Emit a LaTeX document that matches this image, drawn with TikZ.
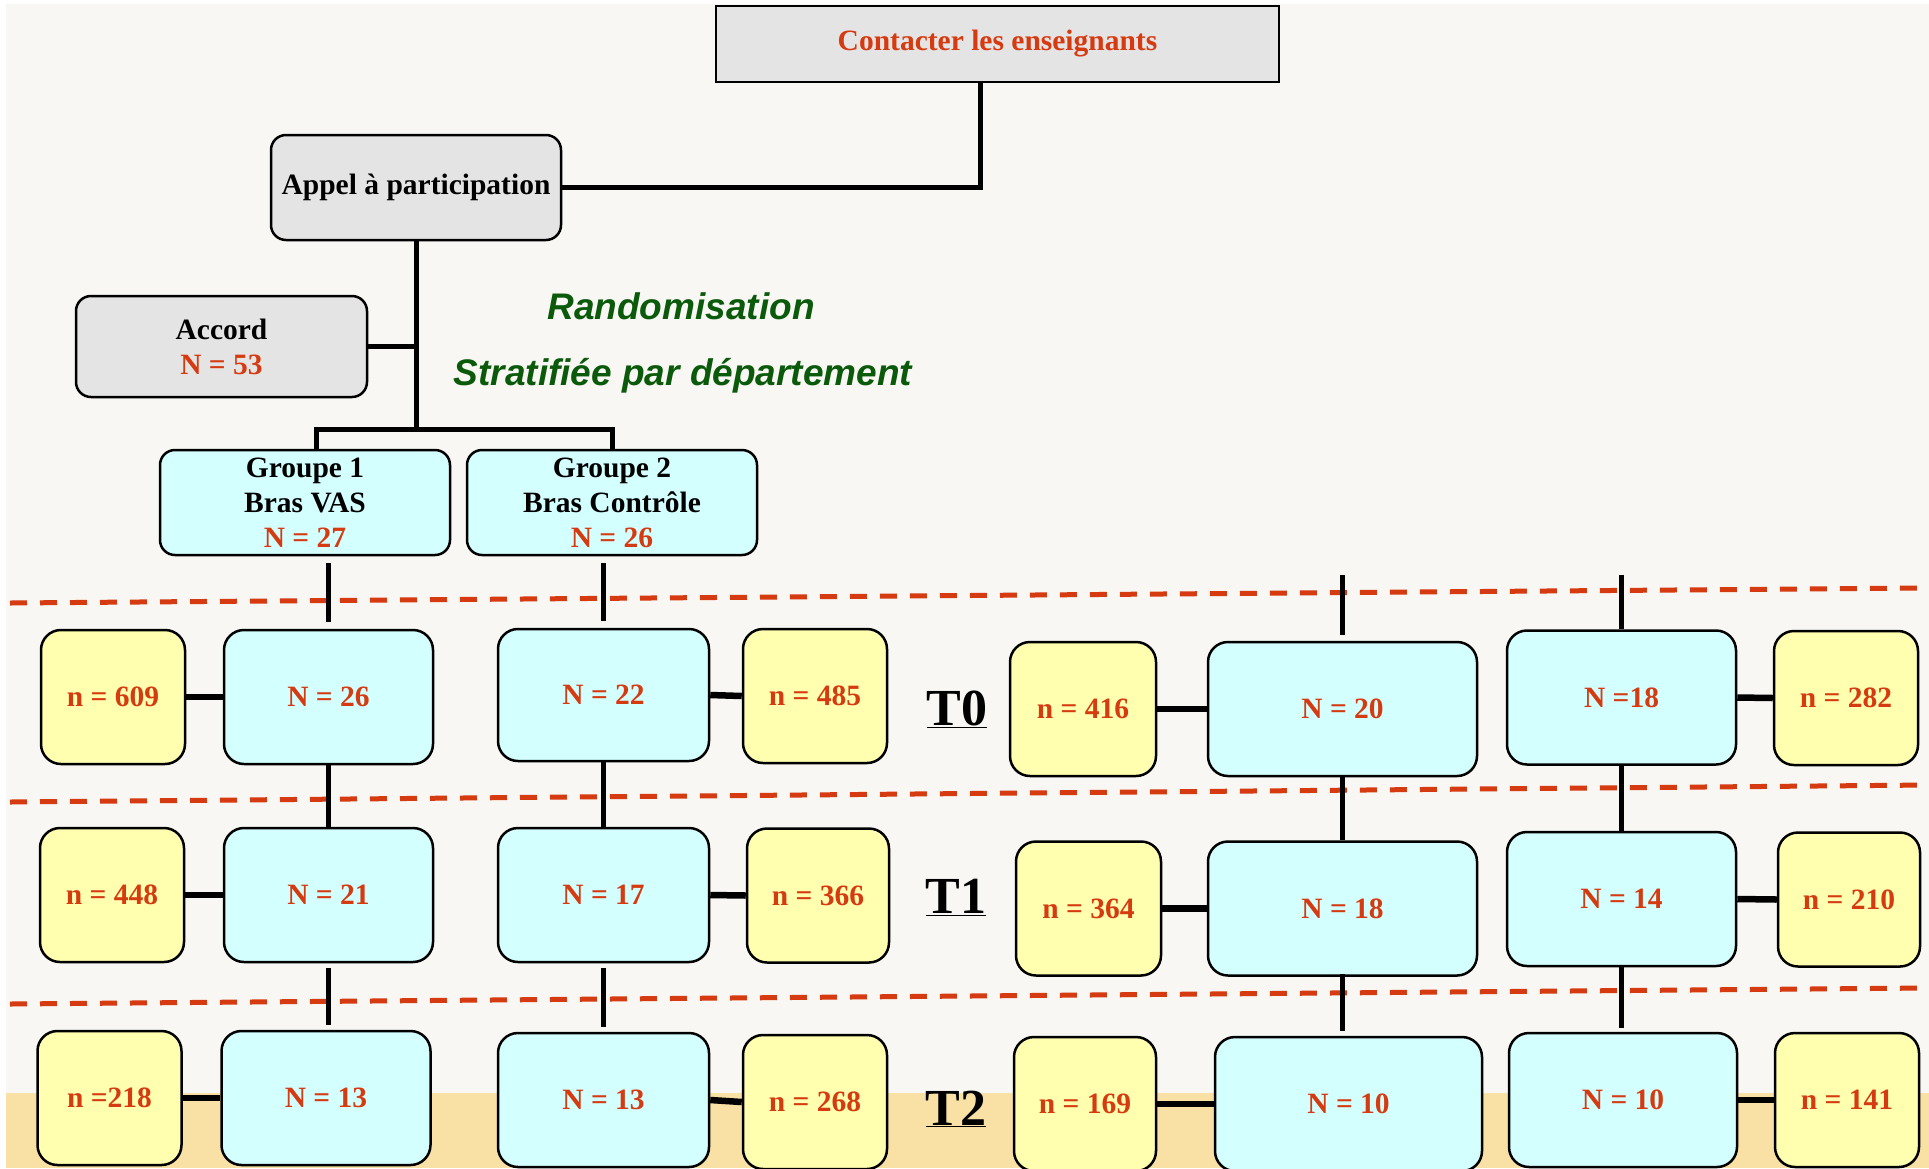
\documentclass[tikz,border=0pt]{standalone}
\usepackage{fontspec}
\setmainfont{Liberation Serif}
\newfontfamily\randofont{Liberation Sans}
\usetikzlibrary{positioning,calc}

\definecolor{paper}{HTML}{F8F7F3}
\definecolor{band}{HTML}{F9E1A5}
\definecolor{boxgrey}{HTML}{E4E4E4}
\definecolor{boxblue}{HTML}{D4FFFF}
\definecolor{boxyellow}{HTML}{FFFFAF}
\definecolor{nred}{HTML}{D53A10}
\definecolor{rgreen}{HTML}{0B5A0B}

\begin{document}
\begin{tikzpicture}[x=1pt, y=-1pt,
        every node/.style={font=\fontsize{29.5}{35}\selectfont\bfseries, inner sep=0pt, align=center},
        greybox/.style={rectangle, draw, line width=2.5pt, fill=boxgrey, rounded corners=15pt, minimum width=290pt, minimum height=105pt},
        bluebox/.style={rectangle, draw, line width=2.5pt, fill=boxblue, rounded corners=20pt, text=nred, minimum width=209pt, minimum height=134pt},
        yellowbox/.style={rectangle, draw, line width=2.5pt, fill=boxyellow, rounded corners=20pt, text=nred, minimum width=144pt, minimum height=134pt},
        link/.style={draw, line width=5pt},
        side/.style={draw, line width=6.5pt},
        wave/.style={draw=nred, line width=5pt, dash pattern=on 17pt off 13pt},
        phase/.style={anchor=base, font=\fontsize{52}{60}\selectfont\bfseries},
        rando/.style={anchor=base, text=rgreen, font=\randofont\fontsize{37}{44}\selectfont\bfseries\itshape}
    ]
        % page
        \useasboundingbox (0,0) rectangle (1929,1168);
        \clip (0,0) rectangle (1929,1168);
        \fill[white] (0,0) rectangle (1929,1168);
        \fill[paper] (6,4) rectangle (1929,1168);
        \fill[band] (6,1093) rectangle (1929,1168);

        % time limits
        \path[wave] (10,603) -- (1929,588);
        \path[wave] (10,802) -- (1929,785);
        \path[wave] (10,1004) -- (1929,988);

        % recruitment
        \node [greybox, sharp corners, text=nred, minimum width=563pt, minimum height=76pt] (contact) at (997.5,44) {Contacter les enseignants};
        \node [greybox] (appel) at (416,187.5) {Appel à participation};
        \node [greybox, minimum width=291pt, minimum height=101pt] (accord) at (221.5,346.5) {Accord\\\textcolor{nred}{N = 53}};
        \node [rando] (rand) at (681,319) {Randomisation};
        \node [rando] (strat) at (683,385) {Stratifiée par département};
        \node [bluebox, text=black, minimum width=290pt, minimum height=105pt, rounded corners=15pt] (grp1) at (305,502.5) {Groupe 1\\Bras VAS\\\textcolor{nred}{N = 27}};
        \node [bluebox, text=black, minimum width=290pt, minimum height=105pt, rounded corners=15pt] (grp2) at (612,502.5) {Groupe 2\\Bras Contrôle\\\textcolor{nred}{N = 26}};

        % phases
        \node [phase] (t0) at (957,725) {\underline{T0}};
        \node [phase] (t1) at (956,913.5) {\underline{T1}};
        \node [phase] (t2) at (956,1125) {\underline{T2}};

        % column a
        \node [bluebox] (a0) at (328.5,697) {N = 26};
        \node [bluebox] (a1) at (328.5,895) {N = 21};
        \node [bluebox] (a2) at (326,1098) {N = 13};
        \node [yellowbox] (ya0) at (113,697) {n = 609};
        \node [yellowbox] (ya1) at (112,895) {n = 448};
        \node [yellowbox] (ya2) at (109.5,1098) {n =218};

        % column b
        \node [bluebox, minimum width=211pt, minimum height=132pt] (b0) at (603.5,695) {N = 22};
        \node [bluebox, minimum width=211pt] (b1) at (603.5,895) {N = 17};
        \node [bluebox, minimum width=211pt] (b2) at (603.5,1100) {N = 13};
        \node [yellowbox] (yb0) at (815,696) {n = 485};
        \node [yellowbox, minimum width=142pt] (yb1) at (818,895.5) {n = 366};
        \node [yellowbox] (yb2) at (815,1102) {n = 268};

        % column c
        \node [bluebox, minimum width=269pt] (c0) at (1342.5,709) {N = 20};
        \node [bluebox, minimum width=269pt] (c1) at (1342.5,908.5) {N = 18};
        \node [bluebox, minimum width=267pt] (c2) at (1348.5,1104) {N = 10};
        \node [yellowbox, minimum width=146pt] (yc0) at (1083,709) {n = 416};
        \node [yellowbox, minimum width=145pt] (yc1) at (1088.5,908.5) {n = 364};
        \node [yellowbox, minimum width=142pt] (yc2) at (1085,1104) {n = 169};

        % column d
        \node [bluebox, minimum width=229pt] (d0) at (1621.5,697.5) {N =18};
        \node [bluebox, minimum width=229pt] (d1) at (1621.5,899) {N = 14};
        \node [bluebox, minimum width=228pt] (d2) at (1623,1100) {N = 10};
        \node [yellowbox] (yd0) at (1846,698) {n = 282};
        \node [yellowbox, minimum width=142pt] (yd1) at (1849,899.5) {n = 210};
        \node [yellowbox] (yd2) at (1847,1100) {n = 141};

        \coordinate (ctop) at (c0.north |- 0,575);
        \coordinate (dtop) at (d0.north |- 0,575);
        \coordinate (split) at (appel.south |- 0,429);

        % links
        \path [link] ([xshift=-17pt]contact.south) |- (appel.east);
        \path [link] (appel.south) -- (split);
        \path [link] (accord.east) -- (accord.east -| split);
        \path [link] ([xshift=11pt]grp1.north) |- (split) -| (grp2.north);

        \path [link, shorten <=7pt, shorten >=7pt] (a0.north |- grp1.south) -- (a0.north);
        \path [link, shorten <=7pt, shorten >=7pt] (b0.north |- grp2.south) -- (b0.north);
        \path [link, shorten >=6pt] (ctop) -- (c0.north);
        \path [link] (dtop) -- (d0.north);

        \path [link] (a0) -- (a1);
        \path [link] (b0) -- (b1);
        \path [link] (c0) -- (c1);
        \path [link] (d0) -- (d1);

        \path [link, shorten <=5pt, shorten >=5pt] (a1.south) -- (a1.south |- a2.north);
        \path [link, shorten <=5pt, shorten >=5pt] (b1.south) -- (b1.south |- b2.north);
        \path [link, shorten <=-3pt, shorten >=5pt] (c1.south) -- (c1.south |- c2.north);
        \path [link, shorten >=4pt] (d1.south) -- (d1.south |- d2.north);

        \path [side] (ya0.east) -- (a0.west);
        \path [side] (ya1.east) -- (a1.west);
        \path [side] (ya2.east) -- (a2.west);
        \path [side] (b0.east) -- (yb0.west);
        \path [side] (b1.east) -- (yb1.west);
        \path [side] (b2.east) -- (yb2.west);
        \path [side] (yc0.east) -- (c0.west);
        \path [side] (yc1.east) -- (c1.west);
        \path [side] (yc2.east) -- (c2.west);
        \path [side] (d0.east) -- (yd0.west);
        \path [side] (d1.east) -- (yd1.west);
        \path [side] (d2.east) -- (yd2.west);
    \end{tikzpicture}
\end{document}
